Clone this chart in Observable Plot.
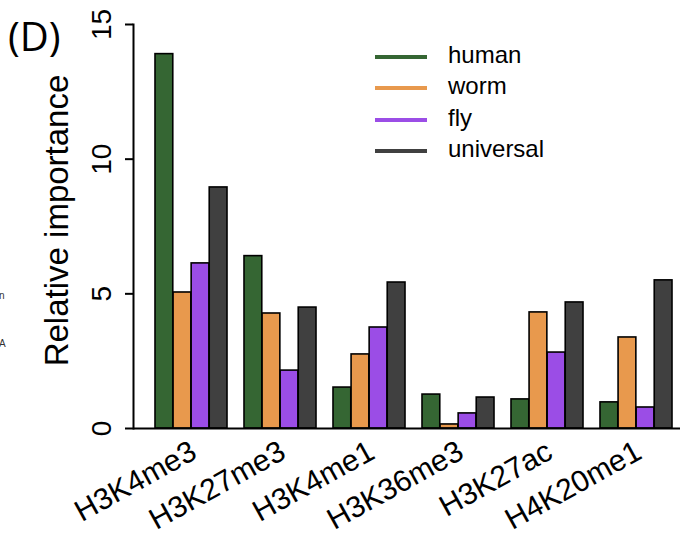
<!DOCTYPE html>
<html>
<head>
<meta charset="utf-8">
<script src="https://cdn.jsdelivr.net/npm/d3@7"></script>
<script src="https://cdn.jsdelivr.net/npm/@observablehq/plot@0.6"></script>
<style>
  body { margin: 0; background: #fff; }
  #wrap { position: relative; width: 680px; height: 536px; overflow: hidden; font-family: "Liberation Sans", Arial, sans-serif; }
  #wrap svg { position: absolute; left: 0; top: 0; }
  .panel { position: absolute; left: 8px; top: 9px; font-family: "Open Sans", sans-serif; font-size: 40px; line-height: 54px; color: #000; }
  .frag { position: absolute; left: -1px; font-size: 10px; color: #333; }
  .legend { position: absolute; left: 375px; top: 40px; }
  .legend .row { position: relative; height: 31.3px; }
  .legend .sw { position: absolute; left: 0; top: 15px; width: 52px; height: 4px; }
  .legend .lab { position: absolute; left: 73px; top: 0; font-size: 24px; line-height: 30px; color: #000; }
</style>
</head>
<body>
<div id="wrap"></div>
<script>
const marks = ["H3K4me3", "H3K27me3", "H3K4me1", "H3K36me3", "H3K27ac", "H4K20me1"];
const series = ["human", "worm", "fly", "universal"];
const human = [13.9, 6.4, 1.52, 1.26, 1.08, 0.97];
const worm = [5.05, 4.27, 2.75, 0.15, 4.31, 3.38];
const fly = [6.13, 2.15, 3.75, 0.56, 2.82, 0.78];
const universal = [8.95, 4.49, 5.42, 1.15, 4.68, 5.5];
const colors = ["#356633", "#E8994D", "#9B4DE6", "#404040"];
const yTicks = [0, 5, 10, 15];
const yLabel = "Relative importance";

const valuesBySeries = [human, worm, fly, universal];
const table = marks.flatMap((m, i) => series.map((s, j) => ({ mark: m, series: s, value: valuesBySeries[j][i] })));

const bw = 72.3;
const n = series.length;
const barMarks = series.map((s, j) =>
  Plot.barY(table.filter(d => d.series === s), {
    x: "mark", y: "value", fill: colors[j], stroke: "#000", strokeWidth: 1.6,
    insetLeft: j * bw / n, insetRight: (n - 1 - j) * bw / n
  })
);

const chart = Plot.plot({
  width: 680, height: 536,
  marginTop: 24, marginBottom: 108, marginLeft: 133, marginRight: 0,
  style: { fontFamily: "'Liberation Sans', Arial, sans-serif", background: "transparent", color: "#000" },
  x: { type: "band", domain: marks, range: [154, 673], paddingInner: 0.19, paddingOuter: 0, axis: null },
  y: { domain: [0, 15], axis: null },
  marks: [
    ...barMarks,
    Plot.ruleY([0], { stroke: "#000", strokeWidth: 2 }),
    Plot.frame({ anchor: "left", stroke: "#000", strokeWidth: 2 }),
    Plot.axisY(yTicks, { tickSize: 8, tickFormat: () => "", strokeWidth: 2, label: null }),
    Plot.text(yTicks, { y: d => d, text: d => String(d), frameAnchor: "left", dx: -31, rotate: -90, fontSize: 28, textAnchor: "middle", lineAnchor: "middle" }),
    Plot.text([yLabel], { frameAnchor: "left", dx: -76, dy: -6, rotate: -90, fontSize: 33, textAnchor: "middle", lineAnchor: "middle" }),
    Plot.text(marks, { x: d => d, text: d => d, frameAnchor: "bottom", dx: 7, dy: 29, rotate: -29, fontSize: 30, textAnchor: "end", lineAnchor: "bottom" })
  ]
});

const wrap = document.getElementById("wrap");
wrap.appendChild(chart);

const panel = document.createElement("div");
panel.className = "panel"; panel.textContent = "(D)";
wrap.appendChild(panel);

[["n", 290], ["A", 338]].forEach(([t, top]) => {
  const f = document.createElement("div");
  f.className = "frag"; f.style.top = top + "px"; f.textContent = t;
  wrap.appendChild(f);
});

const legend = document.createElement("div");
legend.className = "legend";
series.forEach((s, j) => {
  const row = document.createElement("div"); row.className = "row";
  const sw = document.createElement("div"); sw.className = "sw"; sw.style.background = colors[j];
  const lab = document.createElement("div"); lab.className = "lab"; lab.textContent = s;
  row.appendChild(sw); row.appendChild(lab); legend.appendChild(row);
});
wrap.appendChild(legend);
</script>
</body>
</html>
